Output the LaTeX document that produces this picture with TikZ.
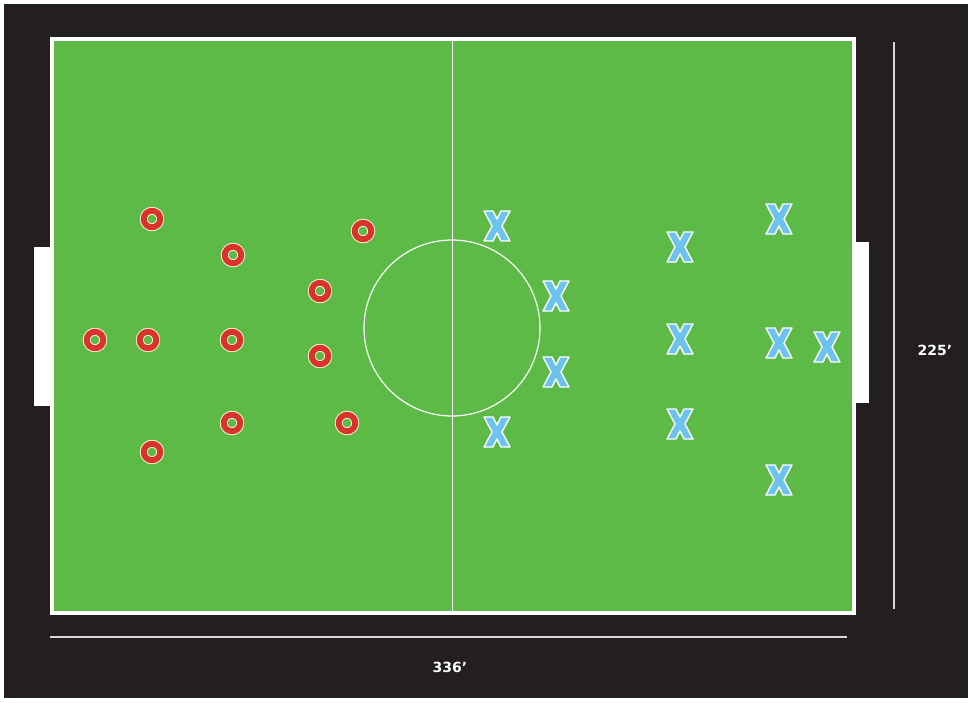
\documentclass[tikz,border=0pt]{standalone}
\usepackage{fontspec}
\setmainfont{DejaVu Sans}
\definecolor{bgdark}{HTML}{231F20}
\definecolor{pitch}{HTML}{5EBA46}
\definecolor{ored}{HTML}{D9342A}
\definecolor{xblue}{HTML}{6CC4EE}
\definecolor{dimgray}{HTML}{D8D8D8}
\tikzset{
  oplayer/.style={circle, inner sep=0pt, minimum size=16.5pt, draw=white!90!yellow,
    line width=0.9pt, double=ored, double distance=6pt},
  xplayer/.style={rectangle, inner sep=0pt, minimum width=34pt, minimum height=38pt,
    path picture={
      \draw[shift={(path picture bounding box.center)}, fill=xblue, draw=white, line width=1.4pt, line join=round]
        (-13,-15) -- (-4,-15) -- (0,-7) -- (4,-15) -- (13,-15) -- (5,0)
        -- (13,15) -- (4,15) -- (0,7) -- (-4,15) -- (-13,15) -- (-5,0) -- cycle;
    }},
  goalbox/.style={fill=white, draw=none},
  fieldline/.style={draw=white, line width=1.2pt},
  dimline/.style={draw=dimgray, line width=1.6pt},
  dimlabel/.style={text=white, font=\bfseries\fontsize{14}{16}\selectfont, inner sep=1pt}
}
\begin{document}
\begin{tikzpicture}[x=1pt,y=-1pt]
  \useasboundingbox (0,0) rectangle (972,702);
  \fill[white] (0,0) rectangle (972,702);
  \fill[bgdark] (4,4) rectangle (968,698);
  % goals
  \fill[goalbox] (34,247) rectangle (51,406);
  \fill[goalbox] (851,242) rectangle (869,403);
  % pitch
  \node[draw=white, line width=3.5pt, fill=pitch, minimum width=802pt, minimum height=574pt,
        inner sep=0pt, anchor=north west] (field) at (50,37) {};
  \draw[fieldline] (field.north) -- (field.south);
  \node[circle, fieldline, minimum size=176pt, inner sep=0pt] (centre) at (452,328) {};
  % dimension lines
  \coordinate (hl) at (50,637);
  \coordinate (hr) at (847,637);
  \coordinate (vt) at (894,42);
  \coordinate (vb) at (894,609);
  \draw[dimline] (hl) -- (hr);
  \draw[dimline] (vt) -- (vb);
  \node[dimlabel] (len) at (450,667) {336'};
  \node[dimlabel] (wid) at (935,350) {225'};
  % O team
  \node[oplayer] (o1) at (152,219) {};
  \node[oplayer] (o2) at (233,255) {};
  \node[oplayer] (o3) at (363,231) {};
  \node[oplayer] (o4) at (320,291) {};
  \node[oplayer] (o5) at (95,340) {};
  \node[oplayer] (o6) at (148,340) {};
  \node[oplayer] (o7) at (232,340) {};
  \node[oplayer] (o8) at (320,356) {};
  \node[oplayer] (o9) at (232,423) {};
  \node[oplayer] (o10) at (347,423) {};
  \node[oplayer] (o11) at (152,452) {};
  % X team
  \node[xplayer] (x1) at (497,226) {};
  \node[xplayer] (x2) at (556,296) {};
  \node[xplayer] (x3) at (556,372) {};
  \node[xplayer] (x4) at (497,432) {};
  \node[xplayer] (x5) at (680,247) {};
  \node[xplayer] (x6) at (680,339) {};
  \node[xplayer] (x7) at (680,424) {};
  \node[xplayer] (x8) at (779,219) {};
  \node[xplayer] (x9) at (779,343) {};
  \node[xplayer] (x10) at (827,347) {};
  \node[xplayer] (x11) at (779,480) {};
\end{tikzpicture}
\end{document}
